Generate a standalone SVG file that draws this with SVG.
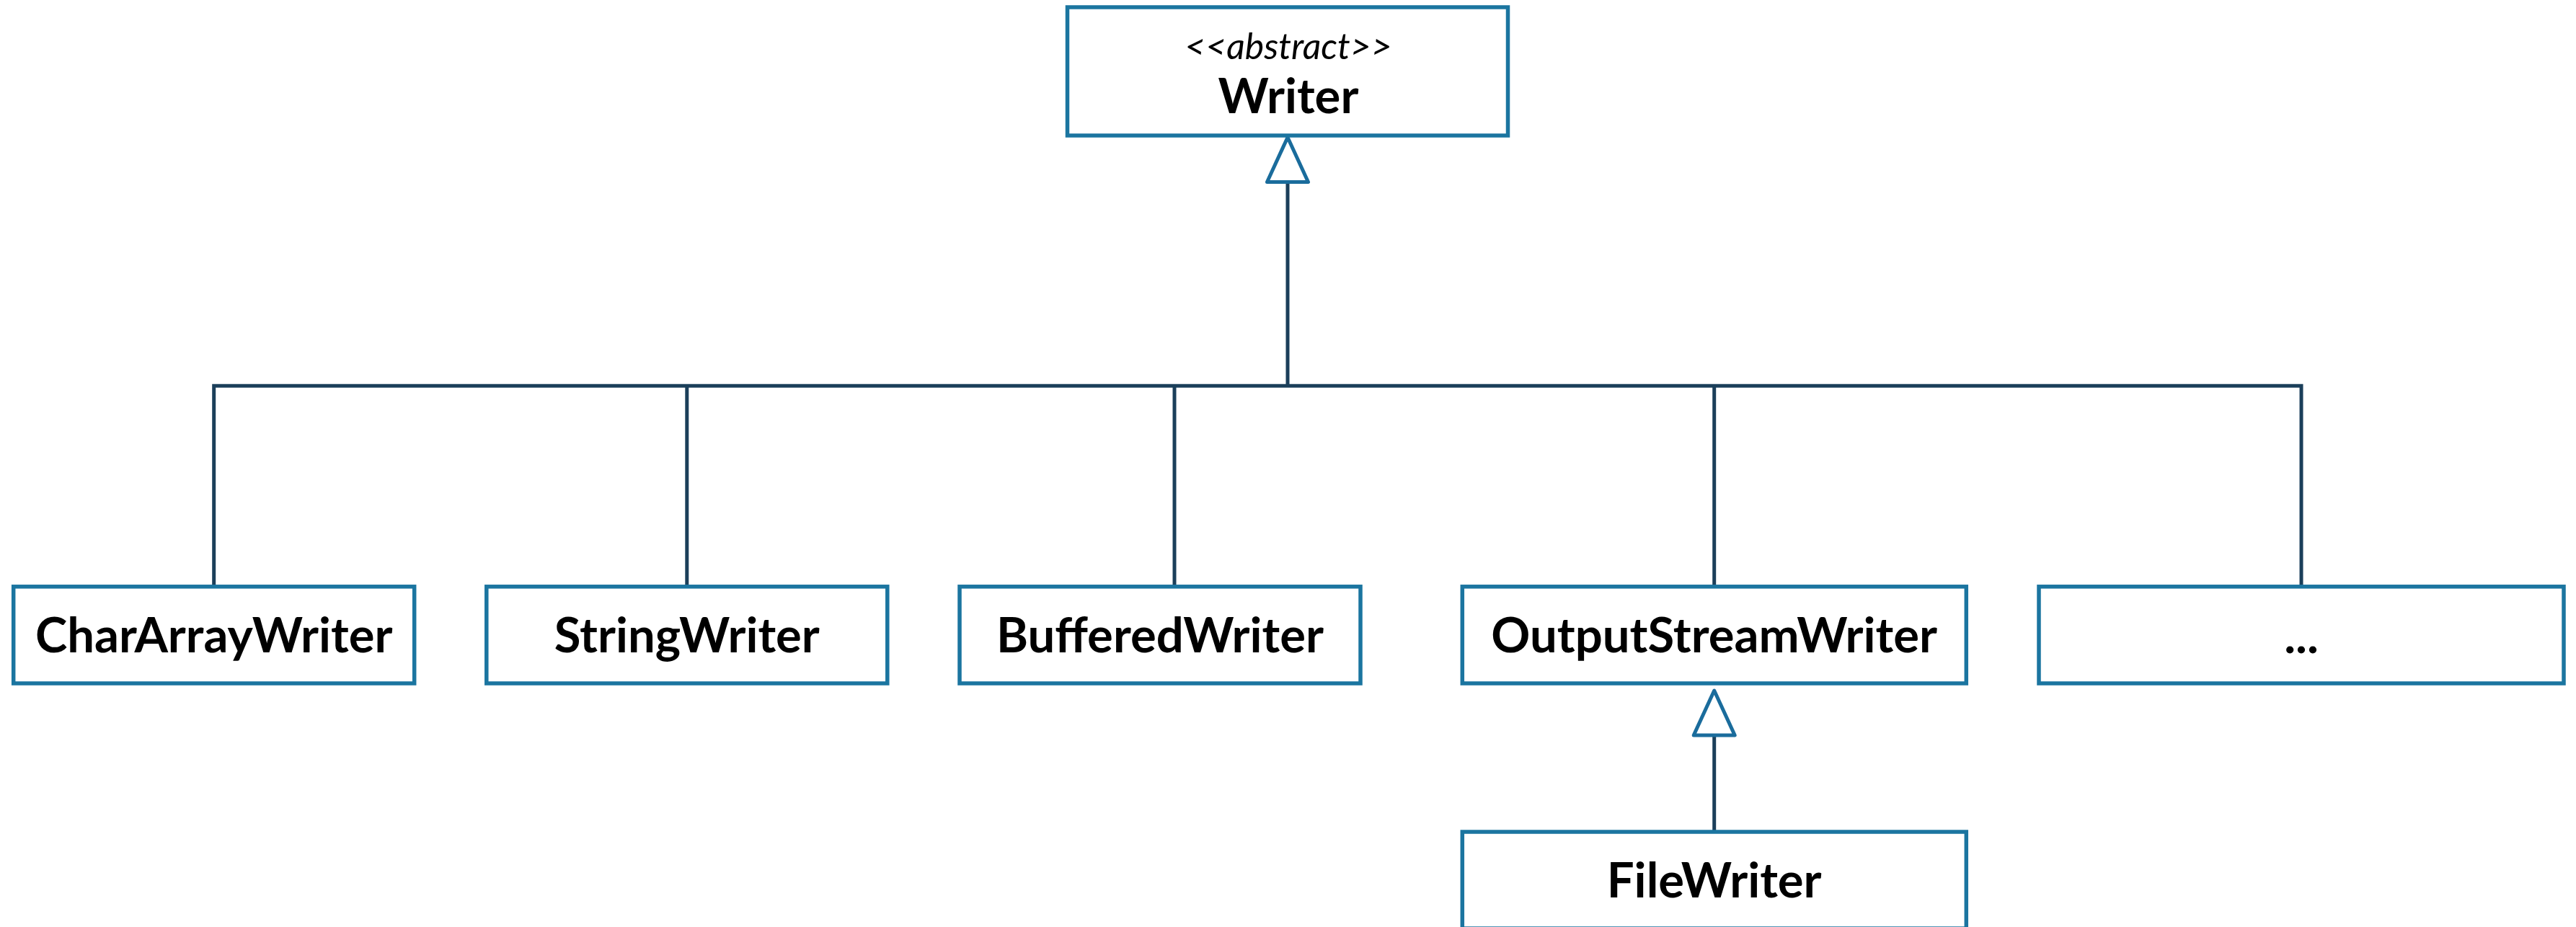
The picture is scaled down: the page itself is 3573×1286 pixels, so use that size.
<svg xmlns="http://www.w3.org/2000/svg" width="3573" height="1286" viewBox="0 0 3573 1286">
  <style>
    .box { fill: #ffffff; stroke: #1b75a0; stroke-width: 5.5; }
    .name { font-family: Lato, "Open Sans", "Liberation Sans", sans-serif; font-weight: 700; font-size: 67px; fill: #000000; text-anchor: middle; }
    .stereo { font-family: Lato, "Open Sans", "Liberation Sans", sans-serif; font-style: italic; font-size: 50px; fill: #000000; text-anchor: middle; }
    .link { fill: none; stroke: #1b3f5a; stroke-width: 5; stroke-linejoin: miter; }
  </style>
  <defs>
    <!-- hollow triangle for generalization (inheritance) -->
    <marker id="gen" markerUnits="userSpaceOnUse" orient="auto" refX="0" refY="0" markerWidth="80" markerHeight="80" overflow="visible">
      <path d="M0 -28.5 L62 0 L0 28.5 Z" fill="#ffffff" stroke="#1a6c9c" stroke-width="5" stroke-linejoin="round"/>
    </marker>
  </defs>

  <rect width="3573" height="1286" fill="#ffffff"/>

  <g id="connectors">
    <!-- bus from the outermost subclasses -->
    <path class="link" d="M296.7 813.8 V535.3 H3192 V813.8"/>
    <path class="link" d="M952.8 813.8 V535.3"/>
    <path class="link" d="M1629 813.8 V535.3"/>
    <path class="link" d="M2377.7 813.8 V535.3"/>
    <!-- stem up to Writer -->
    <path class="link" d="M1786 535.3 V252.5" marker-end="url(#gen)"/>
    <!-- FileWriter extends OutputStreamWriter -->
    <path class="link" d="M2377.7 1154 V1020" marker-end="url(#gen)"/>
  </g>

  <g id="writer">
    <rect class="box" x="1480.5" y="10" width="611" height="178"/>
    <text class="stereo" x="1787" y="82">&lt;&lt;abstract&gt;&gt;</text>
    <text class="name" x="1787" y="157">Writer</text>
  </g>

  <g id="chararraywriter">
    <rect class="box" x="18.7" y="813.8" width="556" height="134.2"/>
    <text class="name" x="296.7" y="905">CharArrayWriter</text>
  </g>

  <g id="stringwriter">
    <rect class="box" x="674.8" y="813.8" width="556" height="134.2"/>
    <text class="name" x="952.8" y="905">StringWriter</text>
  </g>

  <g id="bufferedwriter">
    <rect class="box" x="1331" y="813.8" width="556" height="134.2"/>
    <text class="name" x="1609" y="905">BufferedWriter</text>
  </g>

  <g id="outputstreamwriter">
    <rect class="box" x="2028.3" y="813.8" width="699" height="134.2"/>
    <text class="name" x="2377.7" y="905">OutputStreamWriter</text>
  </g>

  <g id="more">
    <rect class="box" x="2828" y="813.8" width="728" height="134.2"/>
    <text class="name" x="3192" y="906">...</text>
  </g>

  <g id="filewriter">
    <rect class="box" x="2028.3" y="1154" width="699" height="134"/>
    <text class="name" x="2377.7" y="1245">FileWriter</text>
  </g>
</svg>
